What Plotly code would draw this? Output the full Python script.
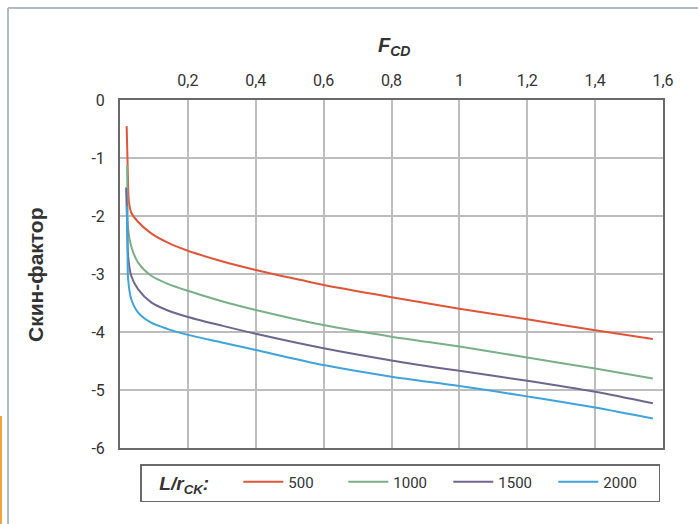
import plotly.graph_objects as go

# ---- data ----
series_names = ["500", "1000", "1500", "2000"]
series_colors = ["#e0553a", "#79b087", "#6f6690", "#3fa3dc"]

x_500 = [0.0196, 0.022, 0.024, 0.026, 0.033, 0.053, 0.092, 0.141, 0.20, 0.30, 0.40, 0.53, 0.60, 0.80, 1.00, 1.20, 1.40, 1.57]
y_500 = [-0.45, -1.00, -1.50, -1.74, -1.94, -2.10, -2.30, -2.46, -2.60, -2.78, -2.93, -3.10, -3.19, -3.40, -3.60, -3.78, -3.97, -4.12]

x_1000 = [0.021, 0.022, 0.024, 0.033, 0.053, 0.092, 0.141, 0.20, 0.30, 0.40, 0.60, 0.80, 1.00, 1.20, 1.40, 1.57]
y_1000 = [-1.12, -1.70, -2.23, -2.52, -2.80, -3.03, -3.17, -3.29, -3.47, -3.62, -3.88, -4.08, -4.25, -4.44, -4.63, -4.80]

x_1500 = [0.018, 0.021, 0.024, 0.033, 0.053, 0.092, 0.141, 0.20, 0.30, 0.40, 0.60, 0.80, 1.00, 1.20, 1.40, 1.57]
y_1500 = [-1.51, -2.10, -2.69, -3.03, -3.26, -3.49, -3.63, -3.74, -3.89, -4.03, -4.28, -4.49, -4.67, -4.84, -5.03, -5.23]

x_2000 = [0.020, 0.022, 0.024, 0.033, 0.053, 0.092, 0.141, 0.20, 0.30, 0.40, 0.60, 0.80, 1.00, 1.20, 1.40, 1.57]
y_2000 = [-1.83, -2.50, -3.09, -3.43, -3.66, -3.84, -3.95, -4.05, -4.18, -4.31, -4.57, -4.77, -4.93, -5.11, -5.30, -5.49]

x_tickvals = [0.2, 0.4, 0.6, 0.8, 1.0, 1.2, 1.4, 1.6]
x_ticktext = ["0,2", "0,4", "0,6", "0,8", "1", "1,2", "1,4", "1,6"]
y_tickvals = [0, -1, -2, -3, -4, -5, -6]
y_ticktext = ["0", "-1", "-2", "-3", "-4", "-5", "-6"]

xs = [x_500, x_1000, x_1500, x_2000]
ys = [y_500, y_1000, y_1500, y_2000]

FONT = "Roboto, Liberation Sans, sans-serif"
BOLD = "Liberation Sans, Arial, sans-serif"

fig = go.Figure()
for name, color, x, y in zip(series_names, series_colors, xs, ys):
    fig.add_trace(go.Scatter(x=x, y=y, mode="lines", name=name,
                             line=dict(color=color, width=2, shape="spline", smoothing=0.8)))

W, H = 698, 524
L, R, T, B = 120, 35, 100, 76
pw, ph = W - L - R, H - T - B

def px_x(px):
    return (px - L) / pw

def px_y(py):
    return 1 - (py - T) / ph

fig.update_layout(
    width=W, height=H,
    margin=dict(l=L, r=R, t=T, b=B, autoexpand=False),
    paper_bgcolor="white", plot_bgcolor="white",
    font=dict(family=FONT, size=15, color="#333333"),
    showlegend=True,
    legend=dict(
        orientation="h",
        x=px_x(140), xanchor="left",
        y=px_y(464), yanchor="top",
        bordercolor="#6a6a6a", borderwidth=1.5,
        bgcolor="white",
        font=dict(family=FONT, size=15, color="#333333"),
        title=dict(text="&nbsp;&nbsp;&nbsp;<b><i>L/r<sub>CK</sub>:</i></b>&nbsp;&nbsp;&nbsp;&nbsp;", side="left",
                   font=dict(family=BOLD, size=19, color="#333")),
        entrywidth=50, entrywidthmode="pixels",
        itemwidth=40,
        tracegroupgap=0,
    ),
    xaxis=dict(
        range=[0, 1.6], side="top",
        tickmode="array", tickvals=x_tickvals, ticktext=x_ticktext,
        showgrid=True, gridcolor="#bdbdbd", gridwidth=1.5,
        showline=True, linecolor="#6a6a6a", linewidth=2, mirror=True,
        zeroline=False, ticks="", ticklabelstandoff=6,
        tickfont=dict(family=FONT, size=16, color="#333333"),
    ),
    yaxis=dict(
        range=[-6, 0],
        tickmode="array", tickvals=y_tickvals, ticktext=y_ticktext,
        showgrid=True, gridcolor="#bdbdbd", gridwidth=1.5,
        showline=True, linecolor="#6a6a6a", linewidth=2, mirror=True,
        zeroline=False, ticks="", ticklabelstandoff=10,
        tickfont=dict(family=FONT, size=16, color="#333333"),
    ),
    annotations=[
        dict(text="<b><i>F<sub>CD</sub></i></b>", xref="paper", yref="paper",
             x=px_x(394), y=px_y(46), xanchor="center", yanchor="middle",
             showarrow=False, font=dict(family=BOLD, size=20, color="#333")),
        dict(text="<b>Скин-фактор</b>", xref="paper", yref="paper",
             x=px_x(35), y=px_y(275), xanchor="center", yanchor="middle", textangle=-90,
             showarrow=False, font=dict(family=BOLD, size=21, color="#333")),
    ],
    shapes=[
        dict(type="line", xref="paper", yref="paper", x0=px_x(8), x1=px_x(8), y0=px_y(8), y1=px_y(524),
             line=dict(color="#aebbc2", width=2)),
        dict(type="line", xref="paper", yref="paper", x0=px_x(8), x1=px_x(698), y0=px_y(8), y1=px_y(8),
             line=dict(color="#aebbc2", width=2)),
        dict(type="line", xref="paper", yref="paper", x0=px_x(1), x1=px_x(1), y0=px_y(416), y1=px_y(524),
             line=dict(color="#f0a43c", width=2)),
    ],
)

fig.write_html("out.html")
